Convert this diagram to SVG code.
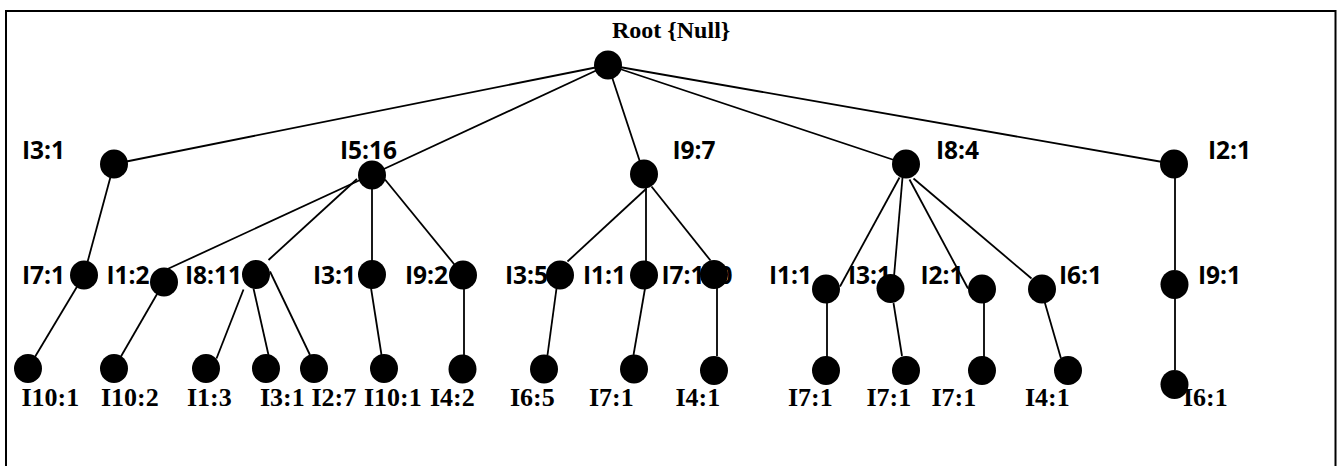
<svg xmlns="http://www.w3.org/2000/svg" width="1338" height="466" viewBox="0 0 1338 466">
  <style>
    .frame { fill: none; stroke: #000; stroke-width: 2; }
    .edge { stroke: #000; stroke-width: 1.8; fill: none; stroke-linecap: butt; }
    .dot { fill: #000; }
    .item { font-family: "Open Sans", "Noto Sans", sans-serif; font-weight: bold; font-size: 24.5px; fill: #000; }
    .leaf { font-family: "Liberation Serif", "Times New Roman", serif; font-weight: bold; font-size: 26px; fill: #000; }
    .root { font-family: "Liberation Serif", "Times New Roman", serif; font-weight: bold; font-size: 24px; fill: #000; }
  </style>
  <defs>
    <ellipse id="pt" rx="14" ry="14.6" class="dot"/>
  </defs>

  <rect width="1338" height="466" fill="#fff"/>
  <rect class="frame" x="6" y="11" width="1329.5" height="470"/>

  <!-- tree edges -->
  <g id="connectors">
    <line class="edge" x1="608" y1="65" x2="114" y2="164"/>
    <line class="edge" x1="608" y1="65" x2="372" y2="174.5"/>
    <line class="edge" x1="372" y1="174.5" x2="166.5" y2="269.5"/>
    <line class="edge" x1="608" y1="65" x2="644" y2="174"/>
    <line class="edge" x1="608" y1="65" x2="906" y2="164"/>
    <line class="edge" x1="608" y1="65" x2="1174" y2="164"/>

    <line class="edge" x1="114" y1="164" x2="84" y2="275"/>
    <line class="edge" x1="84" y1="275" x2="28" y2="368.5"/>
    <line class="edge" x1="164" y1="282" x2="114" y2="368.5"/>

    <line class="edge" x1="357" y1="179" x2="268.5" y2="260"/>
    <line class="edge" x1="372" y1="175" x2="372" y2="274.5"/>
    <line class="edge" x1="385" y1="179.5" x2="463" y2="275"/>
    <line class="edge" x1="243.5" y1="289.5" x2="216.5" y2="358.5"/>
    <line class="edge" x1="253.5" y1="288.5" x2="268.5" y2="355"/>
    <line class="edge" x1="270" y1="271.5" x2="310" y2="355"/>
    <line class="edge" x1="371" y1="288" x2="381.5" y2="355"/>
    <line class="edge" x1="464" y1="289" x2="464" y2="355"/>

    <line class="edge" x1="646.5" y1="188.5" x2="567.5" y2="261.5"/>
    <line class="edge" x1="646" y1="188" x2="646" y2="261"/>
    <line class="edge" x1="651.5" y1="186.5" x2="710.5" y2="260.5"/>
    <line class="edge" x1="556.5" y1="288.5" x2="547.5" y2="355"/>
    <line class="edge" x1="645" y1="288.5" x2="633.5" y2="355"/>
    <line class="edge" x1="717" y1="288" x2="717" y2="356"/>

    <line class="edge" x1="899.5" y1="177.5" x2="840" y2="286.5"/>
    <line class="edge" x1="902.5" y1="177.5" x2="894" y2="276.5"/>
    <line class="edge" x1="909.5" y1="179.5" x2="968" y2="288.5"/>
    <line class="edge" x1="913.5" y1="178.5" x2="1031.5" y2="278.5"/>
    <line class="edge" x1="827" y1="303" x2="827" y2="357"/>
    <line class="edge" x1="893.5" y1="303" x2="902" y2="356"/>
    <line class="edge" x1="984" y1="303" x2="984" y2="357"/>
    <line class="edge" x1="1044.5" y1="301.5" x2="1061" y2="358.5"/>

    <line class="edge" x1="1175" y1="178" x2="1175" y2="270"/>
    <line class="edge" x1="1175" y1="298" x2="1175" y2="370"/>
  </g>

  <!-- root -->
  <g id="root">
    <text class="root" x="612" y="37.5">Root {Null}</text>
    <use href="#pt" x="608" y="65"/>
  </g>

  <!-- first level -->
  <g id="n-i3-1"><text class="item" x="22" y="158.5">I3:1</text><use href="#pt" x="114" y="164"/></g>
  <g id="n-i5-16"><text class="item" x="340" y="158.5">I5:16</text><use href="#pt" x="372" y="175"/></g>
  <g id="n-i9-7"><text class="item" x="672.5" y="158.5">I9:7</text><use href="#pt" x="644" y="174"/></g>
  <g id="n-i8-4"><text class="item" x="936" y="158.5">I8:4</text><use href="#pt" x="906" y="164"/></g>
  <g id="n-i2-1"><text class="item" x="1208" y="158.5">I2:1</text><use href="#pt" x="1174" y="164"/></g>

  <!-- second level -->
  <g id="n-i3-i7"><text class="item" x="22" y="283.5">I7:1</text><use href="#pt" x="84" y="275"/></g>
  <g id="n-i5-i1"><text class="item" x="106.5" y="283.5">I1:2</text><use href="#pt" x="164" y="282"/></g>
  <g id="n-i5-i8"><text class="item" x="185" y="283.5">I8:11</text><use href="#pt" x="256" y="274.5"/></g>
  <g id="n-i5-i3"><text class="item" x="313" y="283.5">I3:1</text><use href="#pt" x="372" y="274.5"/></g>
  <g id="n-i5-i9"><text class="item" x="405" y="283.5">I9:2</text><use href="#pt" x="463" y="275"/></g>
  <g id="n-i9-i3"><text class="item" x="505" y="283.5">I3:5</text><use href="#pt" x="560" y="275"/></g>
  <g id="n-i9-i1"><text class="item" x="583" y="283.5">I1:1</text><use href="#pt" x="644" y="275"/></g>
  <g id="n-i9-i7"><text class="item" x="661.5" y="283.5">I7:100</text><use href="#pt" x="714" y="274.5"/></g>
  <g id="n-i8-i1"><text class="item" x="769" y="283.5">I1:1</text><use href="#pt" x="826" y="289"/></g>
  <g id="n-i8-i3"><text class="item" x="848" y="283.5">I3:1</text><use href="#pt" x="890.5" y="288.5"/></g>
  <g id="n-i8-i2"><text class="item" x="920.5" y="283.5">I2:1</text><use href="#pt" x="982" y="289"/></g>
  <g id="n-i8-i6"><text class="item" x="1059" y="283.5">I6:1</text><use href="#pt" x="1042" y="289"/></g>
  <g id="n-i2-i9"><text class="item" x="1198" y="283.5">I9:1</text><use href="#pt" x="1174.5" y="284.5"/></g>

  <!-- leaves -->
  <g id="l-i10-1a"><text class="leaf" x="21.5" y="406">I10:1</text><use href="#pt" x="28" y="368.5"/></g>
  <g id="l-i10-2"><text class="leaf" x="101" y="406">I10:2</text><use href="#pt" x="114" y="368.5"/></g>
  <g id="l-i1-3"><text class="leaf" x="187" y="406">I1:3</text><use href="#pt" x="206" y="368.5"/></g>
  <g id="l-i3-1"><text class="leaf" x="260" y="406">I3:1</text><use href="#pt" x="266" y="368.5"/></g>
  <g id="l-i2-7"><text class="leaf" x="311.5" y="406">I2:7</text><use href="#pt" x="314" y="368.5"/></g>
  <g id="l-i10-1b"><text class="leaf" x="364" y="406">I10:1</text><use href="#pt" x="384" y="368.5"/></g>
  <g id="l-i4-2"><text class="leaf" x="430" y="406">I4:2</text><use href="#pt" x="462.5" y="369"/></g>
  <g id="l-i6-5"><text class="leaf" x="510" y="406">I6:5</text><use href="#pt" x="544" y="369"/></g>
  <g id="l-i7-1a"><text class="leaf" x="589" y="406">I7:1</text><use href="#pt" x="634" y="369"/></g>
  <g id="l-i4-1a"><text class="leaf" x="675.5" y="406">I4:1</text><use href="#pt" x="714" y="370.5"/></g>
  <g id="l-i7-1b"><text class="leaf" x="788" y="406">I7:1</text><use href="#pt" x="826" y="370.5"/></g>
  <g id="l-i7-1c"><text class="leaf" x="866.5" y="406">I7:1</text><use href="#pt" x="906" y="370.5"/></g>
  <g id="l-i7-1d"><text class="leaf" x="931.5" y="406">I7:1</text><use href="#pt" x="982" y="370.5"/></g>
  <g id="l-i4-1b"><text class="leaf" x="1025" y="406">I4:1</text><use href="#pt" x="1068" y="370.5"/></g>
  <g id="l-i6-1"><text class="leaf" x="1183" y="406">I6:1</text><use href="#pt" x="1174.5" y="384.5"/></g>
</svg>
